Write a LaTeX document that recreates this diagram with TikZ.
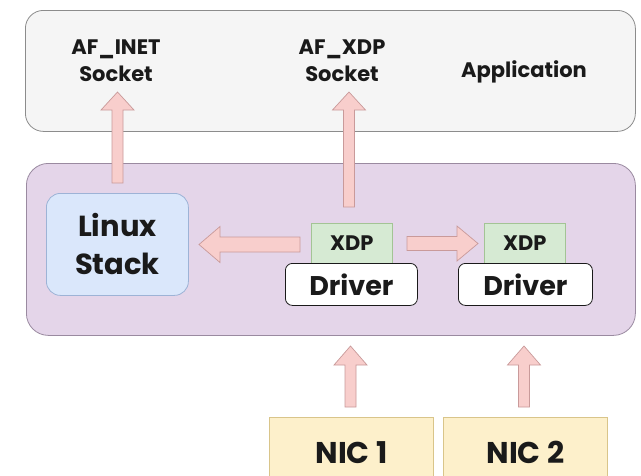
\documentclass[tikz,border=0pt]{standalone}
\usepackage{fontspec}
\setmainfont{Poppins}
\usetikzlibrary{calc}

\definecolor{appfill}{HTML}{F5F5F5}
\definecolor{appline}{HTML}{8C8C8C}
\definecolor{kernfill}{HTML}{E4D5E9}
\definecolor{kernline}{HTML}{9A8AA0}
\definecolor{stackfill}{HTML}{DAE7FB}
\definecolor{stackline}{HTML}{9DB3D6}
\definecolor{xdpfill}{HTML}{D6EAD3}
\definecolor{xdpline}{HTML}{A3C495}
\definecolor{nicfill}{HTML}{FDF0CB}
\definecolor{nicline}{HTML}{D9C58A}
\definecolor{arrfill}{HTML}{F8CECC}
\definecolor{arrline}{HTML}{C99A9A}
\definecolor{ink}{HTML}{1A1A1A}

% block arrow from #1 to #2: shaft half width #3, head half width #4, head length #5 (pt)
\newcommand\fatarrow[5]{%
  \coordinate (fa-h) at ($(#2)!#5pt!(#1)$);
  \draw[blockarrow]
    ($(#1)!#3pt!90:(#2)$) -- ($(fa-h)!#3pt!90:(#2)$) -- ($(fa-h)!#4pt!90:(#2)$)
    -- (#2)
    -- ($(fa-h)!#4pt!-90:(#2)$) -- ($(fa-h)!#3pt!-90:(#2)$) -- ($(#1)!#3pt!-90:(#2)$)
    -- cycle;}

\begin{document}
\begin{tikzpicture}[x=1pt,y=-1pt,
  box/.style={draw, line width=0.8pt, inner sep=0pt, anchor=north west, text=ink,
    font=\bfseries, align=center},
  lbl/.style={text=ink, font=\bfseries, align=center, inner sep=0pt},
  blockarrow/.style={draw=arrline, fill=arrfill, line width=0.7pt, line join=miter}]

\useasboundingbox (0,0) rectangle (641,475);
\clip (0,0) rectangle (641,475);
\fill[white] (0,0) rectangle (641,475);

% user space
\node[box, draw=appline, fill=appfill, rounded corners=18pt,
  minimum width=610pt, minimum height=121pt] (app) at (25,10) {};
\node[lbl, font=\bfseries\fontsize{21}{27}\selectfont] (inet) at (116,61) {AF\_INET\\Socket};
\node[lbl, font=\bfseries\fontsize{21}{27}\selectfont] (afxdp) at (342,61) {AF\_XDP\\Socket};
\node[lbl, font=\bfseries\fontsize{21}{27}\selectfont] (appl) at (524,72) {Application};

% kernel space
\node[box, draw=kernline, fill=kernfill, rounded corners=22pt,
  minimum width=609pt, minimum height=172pt] (kernel) at (26,163) {};
\node[box, draw=stackline, fill=stackfill, rounded corners=14pt,
  minimum width=142pt, minimum height=102pt,
  font=\bfseries\fontsize{29}{38}\selectfont] (stack) at (46,193) {Linux\\Stack};

\node[box, draw=xdpline, fill=xdpfill, minimum width=81pt, minimum height=40pt,
  font=\bfseries\fontsize{21}{24}\selectfont] (xdpa) at (311,223) {XDP};
\node[box, draw=ink, fill=white, rounded corners=7pt, minimum width=132pt,
  minimum height=42pt, font=\bfseries\fontsize{27}{30}\selectfont] (drva) at (285,263) {Driver};

\node[box, draw=xdpline, fill=xdpfill, minimum width=81pt, minimum height=40pt,
  font=\bfseries\fontsize{21}{24}\selectfont] (xdpb) at (484,223) {XDP};
\node[box, draw=ink, fill=white, rounded corners=7pt, minimum width=134pt,
  minimum height=42pt, font=\bfseries\fontsize{27}{30}\selectfont] (drvb) at (458,263) {Driver};

% network cards
\node[box, draw=nicline, fill=nicfill, minimum width=164pt, minimum height=70pt,
  font=\bfseries\fontsize{30}{34}\selectfont] (nica) at (269,417) {NIC 1};
\node[box, draw=nicline, fill=nicfill, minimum width=164pt, minimum height=70pt,
  font=\bfseries\fontsize{30}{34}\selectfont] (nicb) at (443,417) {NIC 2};

% arrow ends
\coordinate (inetTip) at (117.5,92);
\coordinate (stackOut) at (117.5,183);
\coordinate (xdpTip) at (349,92);
\coordinate (xdpOut) at (349,207);
\coordinate (stackIn) at (199,244.5);
\coordinate (xdpLeft) at (300,244.5);
\coordinate (xdpRight) at (407,243.5);
\coordinate (xdpbIn) at (478,243.5);
\coordinate (nicaOut) at (350.5,407);
\coordinate (drvaIn) at (350.5,346);
\coordinate (nicbOut) at (524,407);
\coordinate (drvbIn) at (524,346);

\fatarrow{stackOut}{inetTip}{5.5}{16.5}{18}
\fatarrow{xdpOut}{xdpTip}{5.5}{16.5}{18}
\fatarrow{xdpLeft}{stackIn}{7.5}{18}{21}
\fatarrow{xdpRight}{xdpbIn}{7}{17.5}{21}
\fatarrow{nicaOut}{drvaIn}{5.5}{16.5}{19}
\fatarrow{nicbOut}{drvbIn}{5.5}{16.5}{19}
\end{tikzpicture}
\end{document}
